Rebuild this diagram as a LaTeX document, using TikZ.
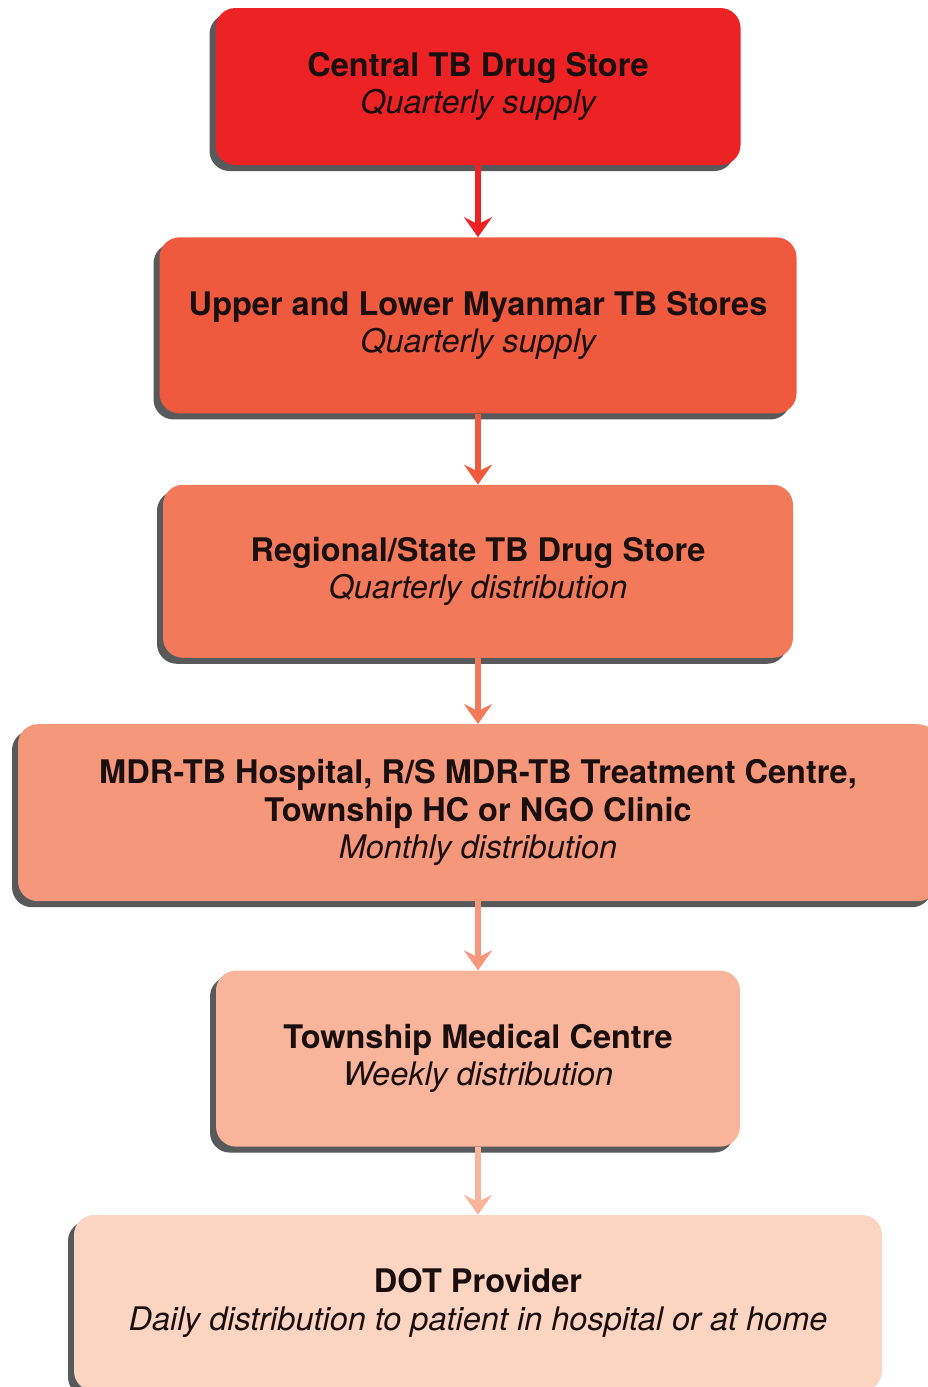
\documentclass[tikz,border=0pt]{standalone}
\usepackage{fontspec}
\setmainfont{TeX Gyre Heros}
\usetikzlibrary{positioning,shadows,arrows.meta}

\definecolor{store1}{HTML}{ED2224}
\definecolor{store2}{HTML}{EF5A3F}
\definecolor{store3}{HTML}{F27A5A}
\definecolor{store4}{HTML}{F5977A}
\definecolor{store5}{HTML}{F8B59B}
\definecolor{store6}{HTML}{FBD4C2}
\definecolor{shade}{HTML}{58595B}
\definecolor{ink}{HTML}{1A0E0E}

\newcommand{\freq}[1]{{\fontsize{32.5}{37.5}\selectfont\mdseries\itshape #1}}

\begin{document}
\begin{tikzpicture}[x=1pt,y=1pt,
    box/.style={rounded corners=20pt,minimum height=176pt,align=center,text=ink,
        font=\fontsize{32.5}{37.5}\selectfont\bfseries,
        drop shadow={shadow xshift=-6pt,shadow yshift=-6pt,fill=shade,opacity=1}},
    flow/.style={line width=5.5pt,-{Stealth[length=20pt,width=28pt,inset=7pt]}}]
    \useasboundingbox (0,0) rectangle (927,-1387);

    \node[box,fill=store1,minimum width=525pt,minimum height=157pt] (N1) at (478,-86.5)
        {Central TB Drug Store\\\freq{Quarterly supply}};
    \node[box,fill=store2,minimum width=637pt,below=72pt of N1] (N2)
        {Upper and Lower Myanmar TB Stores\\\freq{Quarterly supply}};
    \node[box,fill=store3,minimum width=630pt,minimum height=173pt,below=71pt of N2] (N3)
        {Regional/State TB Drug Store\\\freq{Quarterly distribution}};
    \node[box,fill=store4,minimum width=920pt,minimum height=177pt,below=66pt of N3] (N4)
        {MDR-TB Hospital, R/S MDR-TB Treatment Centre,\\Township HC or NGO Clinic\\\freq{Monthly distribution}};
    \node[box,fill=store5,minimum width=524pt,below=69pt of N4] (N5)
        {Township Medical Centre\\\freq{Weekly distribution}};
    \node[box,fill=store6,minimum width=808pt,below=68pt of N5] (N6)
        {DOT Provider\\\freq{Daily distribution to patient in hospital or at home}};

    % supply chain arrows
    \foreach \n [count=\m from 2] in {1,...,5}
        \draw[flow,color=store\n] (N\n.south) -- (N\m.north);
\end{tikzpicture}
\end{document}
